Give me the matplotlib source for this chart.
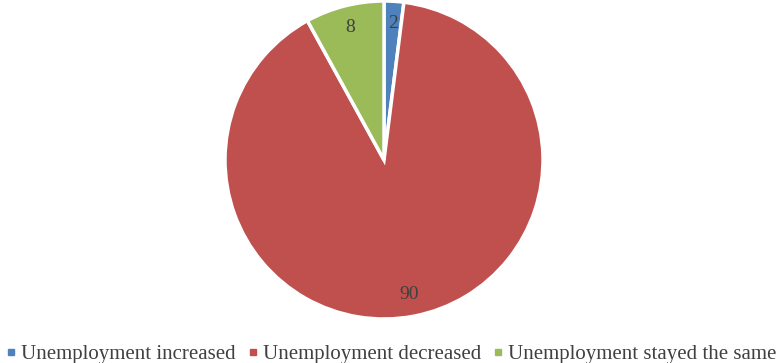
import matplotlib

matplotlib.use("Agg")
import matplotlib.pyplot as plt
from matplotlib.lines import Line2D

categories = ["Unemployment increased", "Unemployment decreased", "Unemployment stayed the same"]
values = [2, 90, 8]
colors = ["#4F81BD", "#C0504D", "#9BBB59"]

plt.rcParams["font.family"] = ["Liberation Serif", "DejaVu Serif"]

fig = plt.figure(figsize=(7.78, 3.63), dpi=100)
W, H = 778, 363
cx, cy, r = 384, 160, 159
ax = fig.add_axes([(cx - r) / W, 1 - (cy + r) / H, 2 * r / W, 2 * r / H])

wedges, texts = ax.pie(
    values,
    colors=colors,
    startangle=90,
    counterclock=False,
    labels=[str(v) for v in values],
    labeldistance=0.86,
    wedgeprops=dict(edgecolor="white", linewidth=2.5),
    textprops=dict(fontsize=14, color="#404040", ha="center", va="center"),
)
ax.set_xlim(-1, 1)
ax.set_ylim(-1, 1)
ax.set_aspect("auto")
ax.axis("off")

handles = [Line2D([], [], marker="s", linestyle="", markersize=5, color=c) for c in colors]
fig.legend(
    handles,
    categories,
    loc="lower center",
    bbox_to_anchor=(0.503, -0.055),
    ncol=3,
    frameon=False,
    fontsize=15,
    handlelength=0.5,
    handletextpad=0.25,
    columnspacing=0.55,
    labelcolor="#404040",
)

fig.savefig("out.png", dpi=100)
